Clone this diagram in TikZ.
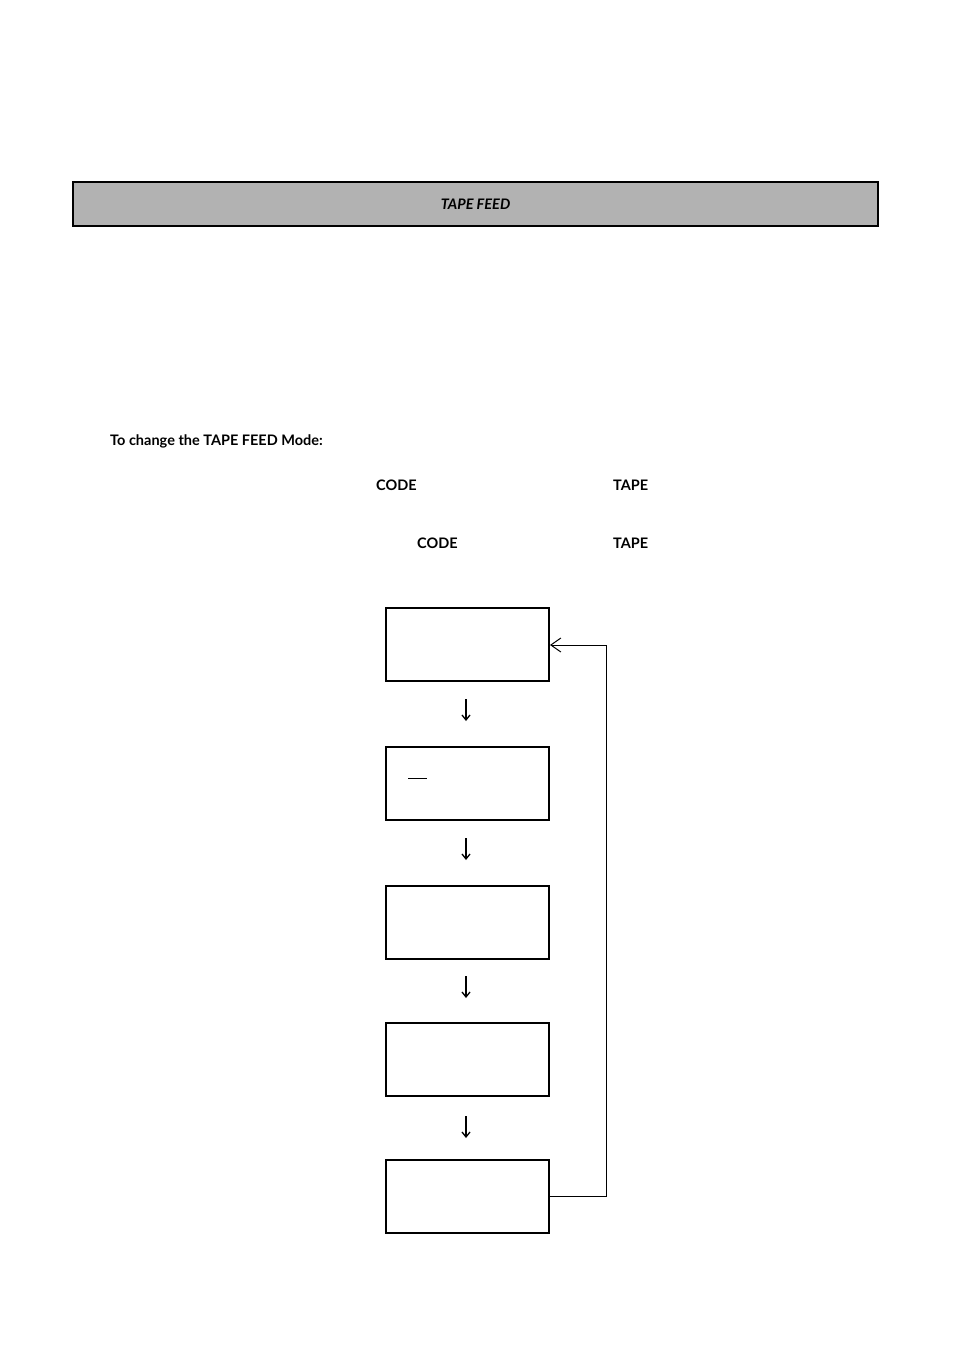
\documentclass[tikz,border=0pt]{standalone}
\usepackage{fontspec}
\setmainfont{Lato}
\usetikzlibrary{arrows.meta}
\begin{document}
\begin{tikzpicture}[x=1pt,y=-1pt,
  disp/.style={draw,line width=2pt,minimum width=163pt,minimum height=73pt,inner sep=0pt},
  lbl/.style={font=\fontsize{14.5}{17}\selectfont\bfseries,inner sep=0pt},
  dn/.style={-{Straight Barb[length=5pt,width=8pt]},line width=1.3pt}]
\useasboundingbox (0,0) rectangle (954,1357);
\node[draw,line width=1.6pt,fill=black!30,minimum width=805pt,minimum height=44pt,inner sep=0pt,font=\fontsize{14.5}{17}\selectfont\bfseries\itshape] (title) at (475.5,204) {TAPE FEED};
\node[lbl,anchor=west] (t1) at (110,441) {To change the TAPE FEED Mode:};
\node[lbl,anchor=west] (c1) at (376,485) {CODE};
\node[lbl,anchor=west] (p1) at (613,485) {TAPE};
\node[lbl,anchor=west] (c2) at (417,543) {CODE};
\node[lbl,anchor=west] (p2) at (613,543) {TAPE};
\node[disp] (b1) at (467.5,644) {};
\node[disp] (b2) at (467.5,783) {};
\node[disp] (b3) at (467.5,922) {};
\node[disp] (b4) at (467.5,1059) {};
\node[disp] (b5) at (467.5,1196) {};
\draw[line width=1pt] (408,778) -- (427,778);
\foreach \y in {699,838,976,1116} \draw[dn] (466,\y) -- ++(0,22);
\coordinate (r1) at (606,1196);
\coordinate (r2) at (606,645);
\draw[line width=1pt,-{Straight Barb[length=10pt,width=14pt]}] (b5.east) -- (r1) -- (r2) -- (b1.east|-r2);
\end{tikzpicture}
\end{document}
